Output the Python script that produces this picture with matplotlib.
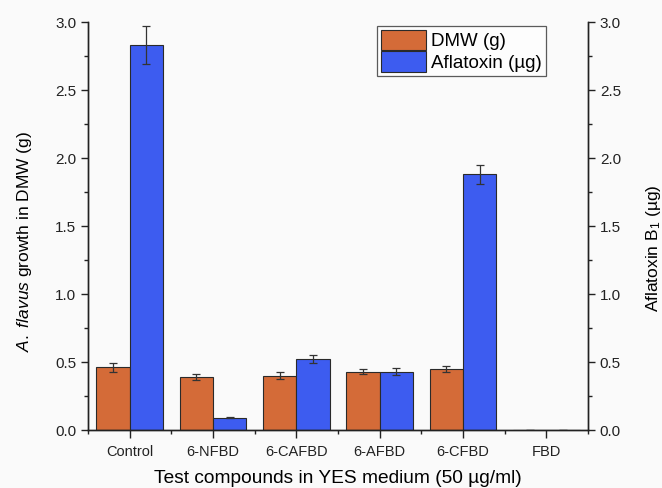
import numpy as np
import matplotlib
matplotlib.use("Agg")
import matplotlib.pyplot as plt
from matplotlib.ticker import MultipleLocator, FixedLocator

plt.rcParams["font.family"] = ["Liberation Sans", "DejaVu Sans"]
plt.rcParams["mathtext.fontset"] = "custom"
plt.rcParams["mathtext.rm"] = "Liberation Sans"
plt.rcParams["mathtext.it"] = "Liberation Sans:italic"

categories = ["Control", "6-NFBD", "6-CAFBD", "6-AFBD", "6-CFBD", "FBD"]
dmw = [0.46, 0.39, 0.40, 0.43, 0.45, 0.0]
dmw_err = [0.03, 0.02, 0.025, 0.02, 0.02, 0.0]
aflatoxin = [2.83, 0.09, 0.52, 0.43, 1.88, 0.0]
aflatoxin_err = [0.14, 0.005, 0.03, 0.025, 0.07, 0.0]

fig = plt.figure(figsize=(6.62, 4.88), dpi=100)
fig.patch.set_facecolor("#fafafa")
ax = fig.add_axes([88 / 662, 58 / 488, 500 / 662, 408 / 488])
ax.set_facecolor("#fafafa")
ax2 = ax.twinx()

x = np.arange(len(categories))
w = 0.4
ekw = dict(ecolor="#333333", elinewidth=0.9, capsize=3, capthick=0.9)
b1 = ax.bar(x - w / 2, dmw, w, yerr=dmw_err, color="#D46B38", edgecolor="#2a2a2a",
            linewidth=0.8, error_kw=ekw, label="DMW (g)")
b2 = ax.bar(x + w / 2, aflatoxin, w, yerr=aflatoxin_err, color="#3D5CF0", edgecolor="#2a2a2a",
            linewidth=0.8, error_kw=ekw, label="Aflatoxin (µg)")

for a in (ax, ax2):
    a.set_ylim(0, 3.0)
    a.yaxis.set_major_locator(MultipleLocator(0.5))
    a.yaxis.set_minor_locator(MultipleLocator(0.25))
    a.spines["top"].set_visible(False)
    for s in a.spines.values():
        s.set_linewidth(1.0)
        s.set_color("#222222")
    a.tick_params(which="major", length=5, width=1.0, labelsize=11, colors="#222222")
    a.tick_params(which="minor", length=3, width=1.0, colors="#222222")
ax.yaxis.set_major_formatter(matplotlib.ticker.FormatStrFormatter("%.1f"))
ax2.yaxis.set_major_formatter(matplotlib.ticker.FormatStrFormatter("%.1f"))

ax.set_xlim(-0.5, len(categories) - 0.5)
ax.set_xticks(x)
ax.set_xticklabels(categories, fontsize=10.5)
ax.xaxis.set_minor_locator(FixedLocator(np.arange(-0.5, len(categories), 1.0)))
ax.tick_params(axis="x", which="major", length=6, pad=5)
ax.tick_params(axis="x", which="minor", length=3)

ax.set_ylabel(r"$\mathit{A.\ flavus}$ growth in DMW (g)", fontsize=12.5)
ax.yaxis.set_label_coords(-0.108, 0.463)
ax2.set_ylabel(r"Aflatoxin B$_1$ (µg)", fontsize=12.5)
ax2.yaxis.set_label_coords(1.112, 0.446)
ax.set_xlabel("Test compounds in YES medium (50 µg/ml)", fontsize=13.8, labelpad=8)

leg = ax.legend(handles=[b1, b2], loc="upper left", bbox_to_anchor=(0.578, 0.99),
                fontsize=13.5, frameon=True, fancybox=False, handlelength=2.4,
                handleheight=1.3, handletextpad=0.3, borderpad=0.2, labelspacing=0.05,
                borderaxespad=0)
leg.get_frame().set_edgecolor("#333333")
leg.get_frame().set_linewidth(0.9)
for h in leg.legend_handles:
    h.set_linewidth(0.8)

fig.savefig("out.png", dpi=100, facecolor=fig.get_facecolor())
